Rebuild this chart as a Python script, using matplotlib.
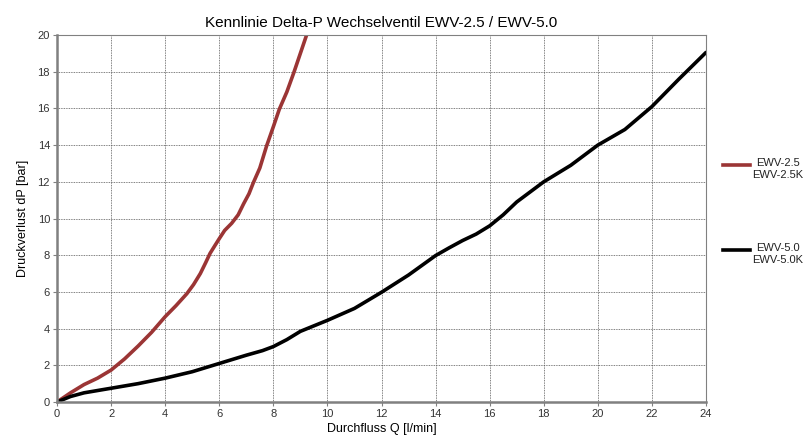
import matplotlib
matplotlib.use("Agg")
import matplotlib.pyplot as plt
from matplotlib.lines import Line2D

plt.rcParams['font.family'] = ['Liberation Sans', 'DejaVu Sans']

# EWV-2.5 / EWV-2.5K
q_25 = [0, 0.5, 1, 1.5, 2, 2.5, 3, 3.5, 4, 4.4, 4.8, 5.05, 5.3, 5.5, 5.66, 5.85, 6.0, 6.2, 6.46, 6.7, 6.9, 7.1, 7.26, 7.5, 7.75, 8.0, 8.22, 8.5, 8.76, 9.0, 9.23]
dp_25 = [0, 0.5, 0.95, 1.3, 1.74, 2.35, 3.05, 3.8, 4.65, 5.25, 5.9, 6.4, 7.0, 7.6, 8.1, 8.55, 8.9, 9.35, 9.74, 10.2, 10.8, 11.35, 11.95, 12.75, 13.95, 15.0, 15.95, 16.9, 17.96, 19.0, 20.0]

# EWV-5.0 / EWV-5.0K
q_50 = [0, 0.5, 1, 1.6, 2, 3, 4, 5, 6, 7, 7.6, 8, 8.5, 9, 9.5, 10, 11, 12, 13, 14, 14.5, 15, 15.5, 16, 16.5, 17, 18, 19, 20, 21, 22, 23, 24]
dp_50 = [0, 0.3, 0.5, 0.65, 0.75, 1.0, 1.3, 1.65, 2.1, 2.55, 2.8, 3.02, 3.4, 3.85, 4.15, 4.45, 5.1, 5.98, 6.92, 7.98, 8.4, 8.8, 9.15, 9.6, 10.2, 10.9, 12.0, 12.9, 14.0, 14.85, 16.1, 17.6, 19.05]

labels = ["EWV-2.5\nEWV-2.5K", "EWV-5.0\nEWV-5.0K"]
colors = ["#9b3535", "#000000"]

xticks = list(range(0, 25, 2))
yticks = list(range(0, 21, 2))

W, H = 806, 437
fig = plt.figure(figsize=(W / 100, H / 100), dpi=100)
ax = fig.add_axes([57/W, 35/H, (706-57)/W, (402-35)/H])

for q, dp, c in zip([q_25, q_50], [dp_25, dp_50], colors):
    ax.plot(q, dp, color=c, lw=2.6, solid_capstyle='round', solid_joinstyle='round')

ax.set_xlim(0, 24)
ax.set_ylim(0, 20)
ax.set_xticks(xticks)
ax.set_yticks(yticks)
ax.tick_params(labelsize=8, length=3, color='#808080', labelcolor='#333333', pad=2)
ax.grid(True, color='#555555', linestyle=(0, (1, 1)), linewidth=0.6)

for s in ['left', 'bottom']:
    ax.spines[s].set_color('#808080')
    ax.spines[s].set_linewidth(1.8)
for s in ['top', 'right']:
    ax.spines[s].set_color('#808080')
    ax.spines[s].set_linewidth(0.8)

ax.set_title("Kennlinie Delta-P Wechselventil EWV-2.5 / EWV-5.0", fontsize=11, pad=6)
ax.set_xlabel("Durchfluss Q [l/min]", fontsize=9, labelpad=3)
ax.set_ylabel("Druckverlust dP [bar]", fontsize=9, labelpad=6)

# legend drawn outside on the right
for i, (lab, c) in enumerate(zip(labels, colors)):
    yl = 165 + 85 * i
    fig.add_artist(Line2D([723/W, 750/W], [1 - yl/H, 1 - yl/H], color=c, lw=2.6,
                          transform=fig.transFigure))
    fig.text(778/W, 1 - (yl - 7)/H, lab, ha='center', va='top', fontsize=8,
             multialignment='center', linespacing=1.25, color='#222222')

fig.savefig("out.png", dpi=100)
